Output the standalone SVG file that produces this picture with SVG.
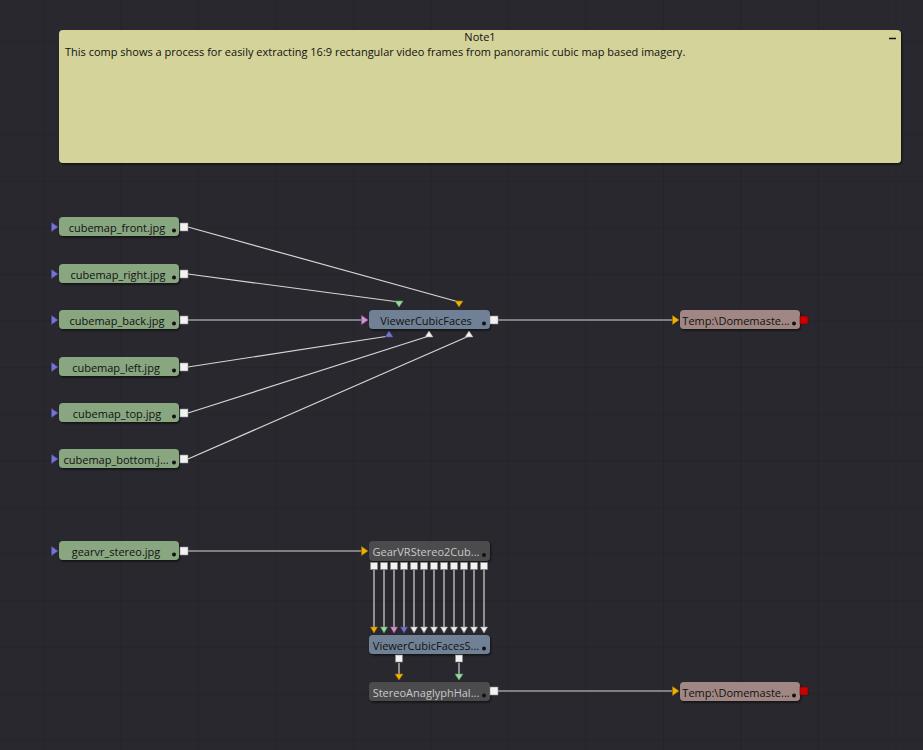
<svg xmlns="http://www.w3.org/2000/svg" width="923" height="750" viewBox="0 0 923 750">
  <defs>
    <pattern id="grid" x="43" y="41" width="77.5" height="46.6" patternUnits="userSpaceOnUse">
      <path d="M0 0 V46.6 M0 0 H77.5" fill="none" stroke="#212025" stroke-width="1.2"/>
    </pattern>
    <filter id="shadow" x="-10%" y="-30%" width="120%" height="170%">
      <feDropShadow dx="1" dy="1.5" stdDeviation="1" flood-color="#000" flood-opacity="0.6"/>
    </filter>
  </defs>
  <style>
    .lbl { font-family: "Open Sans", "Noto Sans", sans-serif; font-size: 11px; text-anchor: middle; }
    .dark { fill: #111; }
    .light { fill: #c8c8c8; }
    .body { stroke: none; filter: url(#shadow); }
    .loader { fill: #88a67f; }
    .viewer { fill: #6f8196; }
    .saver { fill: #a08783; }
    .macro { fill: #4b4b4d; }
    .out { fill: #f2f2f2; stroke: #8a8a8a; stroke-width: 0.6; }
    .dot { fill: #111; }
    .wire { stroke: #d6d6d6; stroke-width: 1.2; fill: none; }
    .in-blue { fill: #7575d6; stroke: #4a4a9a; stroke-width: 0.6; }
    .in-orange { fill: #f2b300; stroke: #9a7000; stroke-width: 0.6; }
    .in-green { fill: #9ad8a0; stroke: #5a9a60; stroke-width: 0.6; }
    .in-pink { fill: #d890d8; stroke: #9a5a9a; stroke-width: 0.6; }
    .in-white { fill: #f2f2f2; stroke: #9a9a9a; stroke-width: 0.6; }
  </style>

  <!-- canvas -->
  <rect width="923" height="750" fill="#29282e"/>
  <rect width="923" height="750" fill="url(#grid)"/>

  <!-- note -->
  <g id="Note1">
    <rect x="59" y="30" width="842" height="133" rx="4" fill="#d3d39a" filter="url(#shadow)"/>
    <text class="lbl dark" x="480" y="41">Note1</text>
    <path d="M889 38.5 H896" stroke="#111" stroke-width="1.5"/>
    <text class="dark" x="65" y="56" font-family="'Open Sans', 'Noto Sans', sans-serif" font-size="11">This comp shows a process for easily extracting 16:9 rectangular video frames from panoramic cubic map based imagery.</text>
  </g>

  <!-- connectors -->
  <g id="connectors">
    <path class="wire" d="M188 227 L459 302"/>
    <path class="wire" d="M188 274 L399 302"/>
    <path class="wire" d="M188 320 L361 320"/>
    <path class="wire" d="M188 367 L389 336"/>
    <path class="wire" d="M188 413 L429 336"/>
    <path class="wire" d="M188 459 L469 336"/>
    <path class="wire" d="M498 320 L672 320"/>
    <path class="wire" d="M188 551 L361 551"/>
    <path class="wire" d="M374 570 V627 M384 570 V627 M394 570 V627 M404 570 V627 M414 570 V627 M424 570 V627 M434 570 V627 M444 570 V627 M454 570 V627 M464 570 V627 M474 570 V627 M484 570 V627"/>
    <path class="wire" d="M399 663 V674 M459 663 V674"/>
    <path class="wire" d="M498 691 L672 691"/>
  </g>

  <!-- loaders -->
  <g id="cubemap_front">
    <rect class="body loader" x="59" y="217" width="120" height="19" rx="4"/>
    <text class="lbl dark" x="117" y="232">cubemap_front.jpg</text>
    <circle class="dot" cx="174" cy="230.5" r="2"/>
    <path class="in-blue" d="M51.5 222.5 L58 227 L51.5 231.5 Z"/>
    <rect class="out" x="180" y="223" width="8" height="8"/>
  </g>
  <g id="cubemap_right">
    <rect class="body loader" x="59" y="264" width="120" height="19" rx="4"/>
    <text class="lbl dark" x="118" y="279">cubemap_right.jpg</text>
    <circle class="dot" cx="174" cy="277.5" r="2"/>
    <path class="in-blue" d="M51.5 269.5 L58 274 L51.5 278.5 Z"/>
    <rect class="out" x="180" y="270" width="8" height="8"/>
  </g>
  <g id="cubemap_back">
    <rect class="body loader" x="59" y="310" width="120" height="19" rx="4"/>
    <text class="lbl dark" x="117" y="325">cubemap_back.jpg</text>
    <circle class="dot" cx="174" cy="323.5" r="2"/>
    <path class="in-blue" d="M51.5 315.5 L58 320 L51.5 324.5 Z"/>
    <rect class="out" x="180" y="316" width="8" height="8"/>
  </g>
  <g id="cubemap_left">
    <rect class="body loader" x="59" y="357" width="120" height="19" rx="4"/>
    <text class="lbl dark" x="116" y="372">cubemap_left.jpg</text>
    <circle class="dot" cx="174" cy="370.5" r="2"/>
    <path class="in-blue" d="M51.5 362.5 L58 367 L51.5 371.5 Z"/>
    <rect class="out" x="180" y="363" width="8" height="8"/>
  </g>
  <g id="cubemap_top">
    <rect class="body loader" x="59" y="403" width="120" height="19" rx="4"/>
    <text class="lbl dark" x="117" y="418">cubemap_top.jpg</text>
    <circle class="dot" cx="174" cy="416.5" r="2"/>
    <path class="in-blue" d="M51.5 408.5 L58 413 L51.5 417.5 Z"/>
    <rect class="out" x="180" y="409" width="8" height="8"/>
  </g>
  <g id="cubemap_bottom">
    <rect class="body loader" x="59" y="449" width="120" height="19" rx="4"/>
    <text class="lbl dark" x="116" y="464">cubemap_bottom.j...</text>
    <circle class="dot" cx="174" cy="462.5" r="2"/>
    <path class="in-blue" d="M51.5 454.5 L58 459 L51.5 463.5 Z"/>
    <rect class="out" x="180" y="455" width="8" height="8"/>
  </g>
  <g id="gearvr_stereo">
    <rect class="body loader" x="59" y="541" width="120" height="19" rx="4"/>
    <text class="lbl dark" x="116" y="556">gearvr_stereo.jpg</text>
    <circle class="dot" cx="174" cy="554.5" r="2"/>
    <path class="in-blue" d="M51.5 546.5 L58 551 L51.5 555.5 Z"/>
    <rect class="out" x="180" y="547" width="8" height="8"/>
  </g>

  <!-- cubic faces viewer -->
  <g id="ViewerCubicFaces">
    <rect class="body viewer" x="369" y="310" width="121" height="19" rx="4"/>
    <text class="lbl dark" x="426" y="325">ViewerCubicFaces</text>
    <circle class="dot" cx="484" cy="323.5" r="2"/>
    <path class="in-pink" d="M361.5 315.5 L368 320 L361.5 324.5 Z"/>
    <path class="in-green" d="M395 301 L403 301 L399 307 Z"/>
    <path class="in-orange" d="M455 301 L463 301 L459 307 Z"/>
    <path class="in-blue" d="M385 337 L393 337 L389 331 Z"/>
    <path class="in-white" d="M425 337 L433 337 L429 331 Z"/>
    <path class="in-white" d="M465 337 L473 337 L469 331 Z"/>
    <rect class="out" x="490" y="316" width="8" height="8"/>
  </g>

  <g id="Saver1">
    <rect class="body saver" x="680" y="310" width="120" height="19" rx="4"/>
    <text class="lbl dark" x="736" y="325">Temp:\Domemaste...</text>
    <circle class="dot" cx="794" cy="323.5" r="2"/>
    <path class="in-orange" d="M672.5 315.5 L679 320 L672.5 324.5 Z"/>
    <rect x="800" y="316" width="8" height="8" fill="#cc0000" stroke="#660000" stroke-width="0.6"/>
  </g>

  <!-- stereo branch -->
  <g id="GearVRStereo2CubicFaces">
    <rect class="body macro" x="369" y="541" width="121" height="20" rx="4"/>
    <text class="lbl light" x="426" y="556">GearVRStereo2Cub...</text>
    <circle class="dot" cx="484" cy="555" r="2"/>
    <path class="in-orange" d="M361.5 546.5 L368 551 L361.5 555.5 Z"/>
    <rect class="out" x="370.5" y="562.5" width="7" height="7"/>
    <rect class="out" x="380.5" y="562.5" width="7" height="7"/>
    <rect class="out" x="390.5" y="562.5" width="7" height="7"/>
    <rect class="out" x="400.5" y="562.5" width="7" height="7"/>
    <rect class="out" x="410.5" y="562.5" width="7" height="7"/>
    <rect class="out" x="420.5" y="562.5" width="7" height="7"/>
    <rect class="out" x="430.5" y="562.5" width="7" height="7"/>
    <rect class="out" x="440.5" y="562.5" width="7" height="7"/>
    <rect class="out" x="450.5" y="562.5" width="7" height="7"/>
    <rect class="out" x="460.5" y="562.5" width="7" height="7"/>
    <rect class="out" x="470.5" y="562.5" width="7" height="7"/>
    <rect class="out" x="480.5" y="562.5" width="7" height="7"/>
  </g>

  <g id="ViewerCubicFacesStereo">
    <rect class="body viewer" x="369" y="635" width="121" height="19" rx="4"/>
    <text class="lbl dark" x="426" y="650">ViewerCubicFacesS...</text>
    <circle class="dot" cx="484" cy="648.5" r="2"/>
    <path class="in-orange" d="M370.5 627 L377.5 627 L374 633 Z"/>
    <path class="in-green" d="M380.5 627 L387.5 627 L384 633 Z"/>
    <path class="in-pink" d="M390.5 627 L397.5 627 L394 633 Z"/>
    <path class="in-blue" d="M400.5 627 L407.5 627 L404 633 Z"/>
    <path class="in-white" d="M410.5 627 L417.5 627 L414 633 Z"/>
    <path class="in-white" d="M420.5 627 L427.5 627 L424 633 Z"/>
    <path class="in-white" d="M430.5 627 L437.5 627 L434 633 Z"/>
    <path class="in-white" d="M440.5 627 L447.5 627 L444 633 Z"/>
    <path class="in-white" d="M450.5 627 L457.5 627 L454 633 Z"/>
    <path class="in-white" d="M460.5 627 L467.5 627 L464 633 Z"/>
    <path class="in-white" d="M470.5 627 L477.5 627 L474 633 Z"/>
    <path class="in-white" d="M480.5 627 L487.5 627 L484 633 Z"/>
    <rect class="out" x="395.5" y="655" width="7" height="7"/>
    <rect class="out" x="455.5" y="655" width="7" height="7"/>
  </g>

  <g id="StereoAnaglyphHalfColor">
    <rect class="body macro" x="369" y="682" width="121" height="19" rx="4"/>
    <text class="lbl light" x="426" y="697">StereoAnaglyphHal...</text>
    <circle class="dot" cx="484" cy="695.5" r="2"/>
    <path class="in-orange" d="M395 674 L403 674 L399 680 Z"/>
    <path class="in-green" d="M455 674 L463 674 L459 680 Z"/>
    <rect class="out" x="490" y="687" width="8" height="8"/>
  </g>

  <g id="Saver2">
    <rect class="body saver" x="680" y="682" width="120" height="19" rx="4"/>
    <text class="lbl dark" x="736" y="697">Temp:\Domemaste...</text>
    <circle class="dot" cx="794" cy="695.5" r="2"/>
    <path class="in-orange" d="M672.5 686.5 L679 691 L672.5 695.5 Z"/>
    <rect x="800" y="687" width="8" height="8" fill="#cc0000" stroke="#660000" stroke-width="0.6"/>
  </g>
</svg>
